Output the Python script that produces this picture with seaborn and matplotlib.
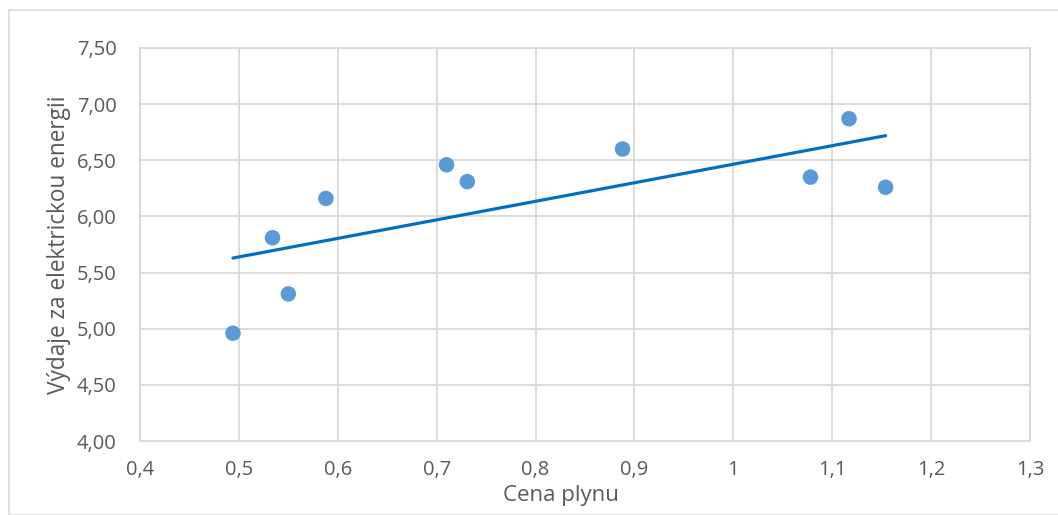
import matplotlib
matplotlib.use("Agg")
import matplotlib.pyplot as plt
import seaborn as sns
import pandas as pd
from matplotlib.ticker import FuncFormatter, MultipleLocator
from matplotlib.patches import Rectangle

cena_plynu = [0.494, 0.534, 0.550, 0.588, 0.710, 0.731, 0.888, 1.078, 1.117, 1.154]
vydaje = [4.96, 5.81, 5.31, 6.16, 6.46, 6.31, 6.60, 6.35, 6.87, 6.26]
x_label = "Cena plynu"
y_label = "Výdaje za elektrickou energii"

df = pd.DataFrame({"x": cena_plynu, "y": vydaje})

sns.set_theme(style="white")
plt.rcParams["font.family"] = ["Open Sans", "DejaVu Sans"]

fig = plt.figure(figsize=(10.58, 5.15), dpi=100)
ax = fig.add_axes([140/1058, 1-441/515, 890/1058, 393/515])

sns.regplot(data=df, x="x", y="y", ax=ax, ci=None,
            scatter_kws=dict(s=125, color="#5B9BD5", edgecolors="none", alpha=1, zorder=3),
            line_kws=dict(color="#0070C0", lw=2.3, zorder=4))

ax.set_xlim(0.4, 1.3)
ax.set_ylim(4.0, 7.5)
ax.xaxis.set_major_locator(MultipleLocator(0.1))
ax.yaxis.set_major_locator(MultipleLocator(0.5))
ax.xaxis.set_major_formatter(FuncFormatter(lambda v, p: f"{round(v, 2):g}".replace(".", ",")))
ax.yaxis.set_major_formatter(FuncFormatter(lambda v, p: f"{v:.2f}".replace(".", ",")))
ax.grid(True, color="#D9D9D9", lw=1.3)
ax.set_axisbelow(True)
for s in ax.spines.values():
    s.set_color("#D9D9D9")
    s.set_linewidth(1.3)
ax.tick_params(axis="both", length=0, labelsize=14.5, labelcolor="#595959")
ax.tick_params(axis="y", pad=17)
ax.tick_params(axis="x", pad=14)
ax.set_xlabel(x_label, fontsize=16, color="#595959")
ax.xaxis.set_label_coords((561 - 140) / 890, -(495 - 441) / 393, transform=ax.transAxes)
ax.xaxis.label.set_va("center")
ax.set_ylabel(y_label, fontsize=16.3, color="#595959", labelpad=4)

fig.patches.append(Rectangle((9/1058, 0), 1, 1-10/515, transform=fig.transFigure,
                             fill=False, edgecolor="#D9D9D9", lw=1.2))

fig.savefig("out.png", dpi=100)
